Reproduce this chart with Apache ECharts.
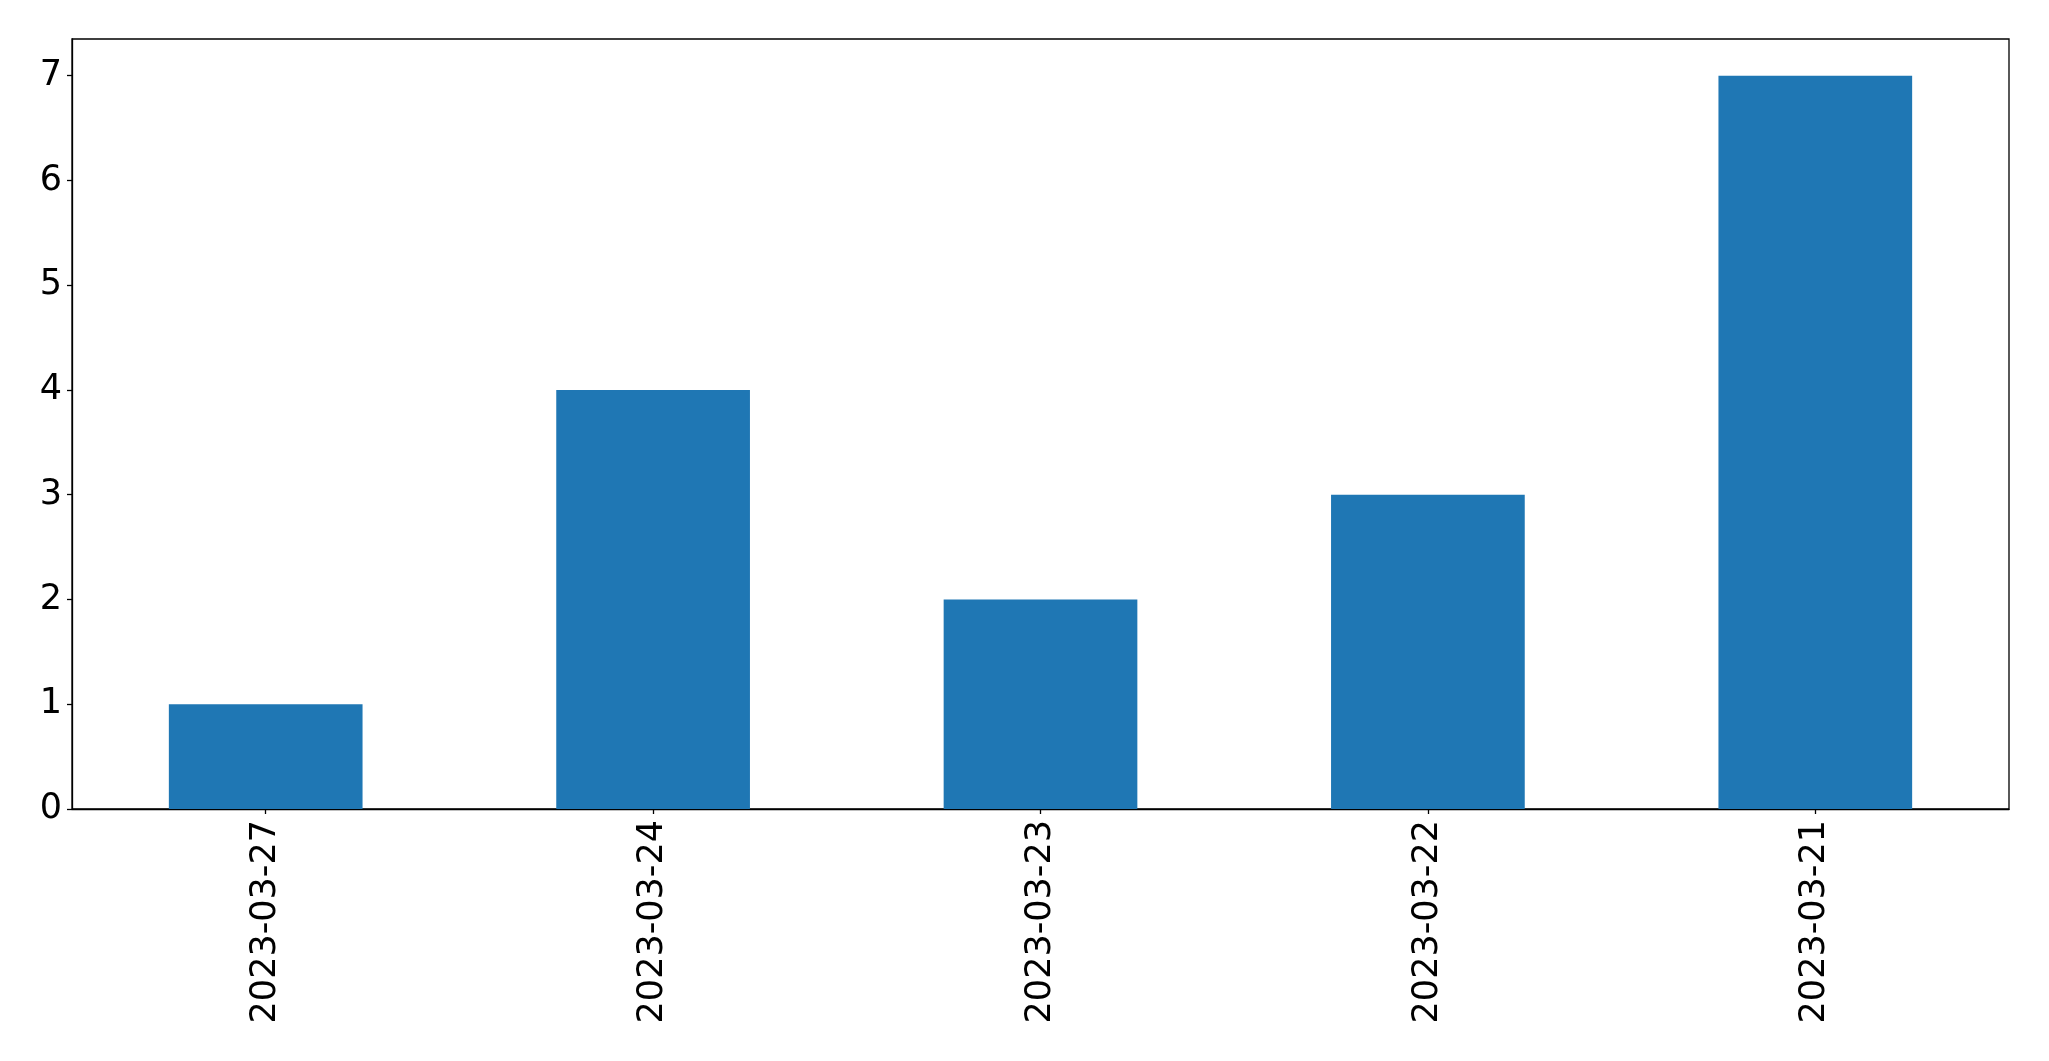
<!DOCTYPE html>
<html>
<head>
<meta charset="utf-8">
<style>html,body{margin:0;padding:0;background:#fff;}#chart{width:2049px;height:1061px;}</style>
<script src="https://cdn.jsdelivr.net/npm/echarts@6/dist/echarts.min.js"></script>
</head>
<body>
<div id="chart"></div>
<script>
const categories = ["2023-03-27", "2023-03-24", "2023-03-23", "2023-03-22", "2023-03-21"];
const counts = [1, 4, 2, 3, 7];
const yTicks = [0, 1, 2, 3, 4, 5, 6, 7];

const chart = echarts.init(document.getElementById('chart'), null, {renderer: 'canvas'});
const font = 'DejaVu Sans';
chart.setOption({
  animation: false,
  backgroundColor: '#ffffff',
  grid: {left: 72, top: 39, width: 1937, height: 770, show: true, borderColor: '#000', borderWidth: 1.3, backgroundColor: 'transparent'},
  xAxis: {
    type: 'category',
    data: categories,
    boundaryGap: true,
    axisLine: {show: true, lineStyle: {color: '#000', width: 1.3}},
    axisTick: {show: true, alignWithLabel: true, length: 5, lineStyle: {color: '#000', width: 1.3}},
    axisLabel: {rotate: 90, fontFamily: font, fontSize: 35, color: '#000', margin: 11, interval: 0}
  },
  yAxis: {
    type: 'value',
    min: 0,
    max: 7.35,
    interval: 1,
    splitLine: {show: false},
    axisLine: {show: true, lineStyle: {color: '#000', width: 1.3}},
    axisTick: {show: true, length: 5, lineStyle: {color: '#000', width: 1.3}},
    axisLabel: {fontFamily: font, fontSize: 35, color: '#000', margin: 10, showMaxLabel: false,
      padding: [6, 0, 0, 0],
      formatter: function (v) { return yTicks.indexOf(v) >= 0 ? String(v) : ''; }}
  },
  series: [{
    type: 'bar',
    data: counts,
    barWidth: '50%',
    itemStyle: {color: '#1f77b4'}
  }]
});
</script>
</body>
</html>
